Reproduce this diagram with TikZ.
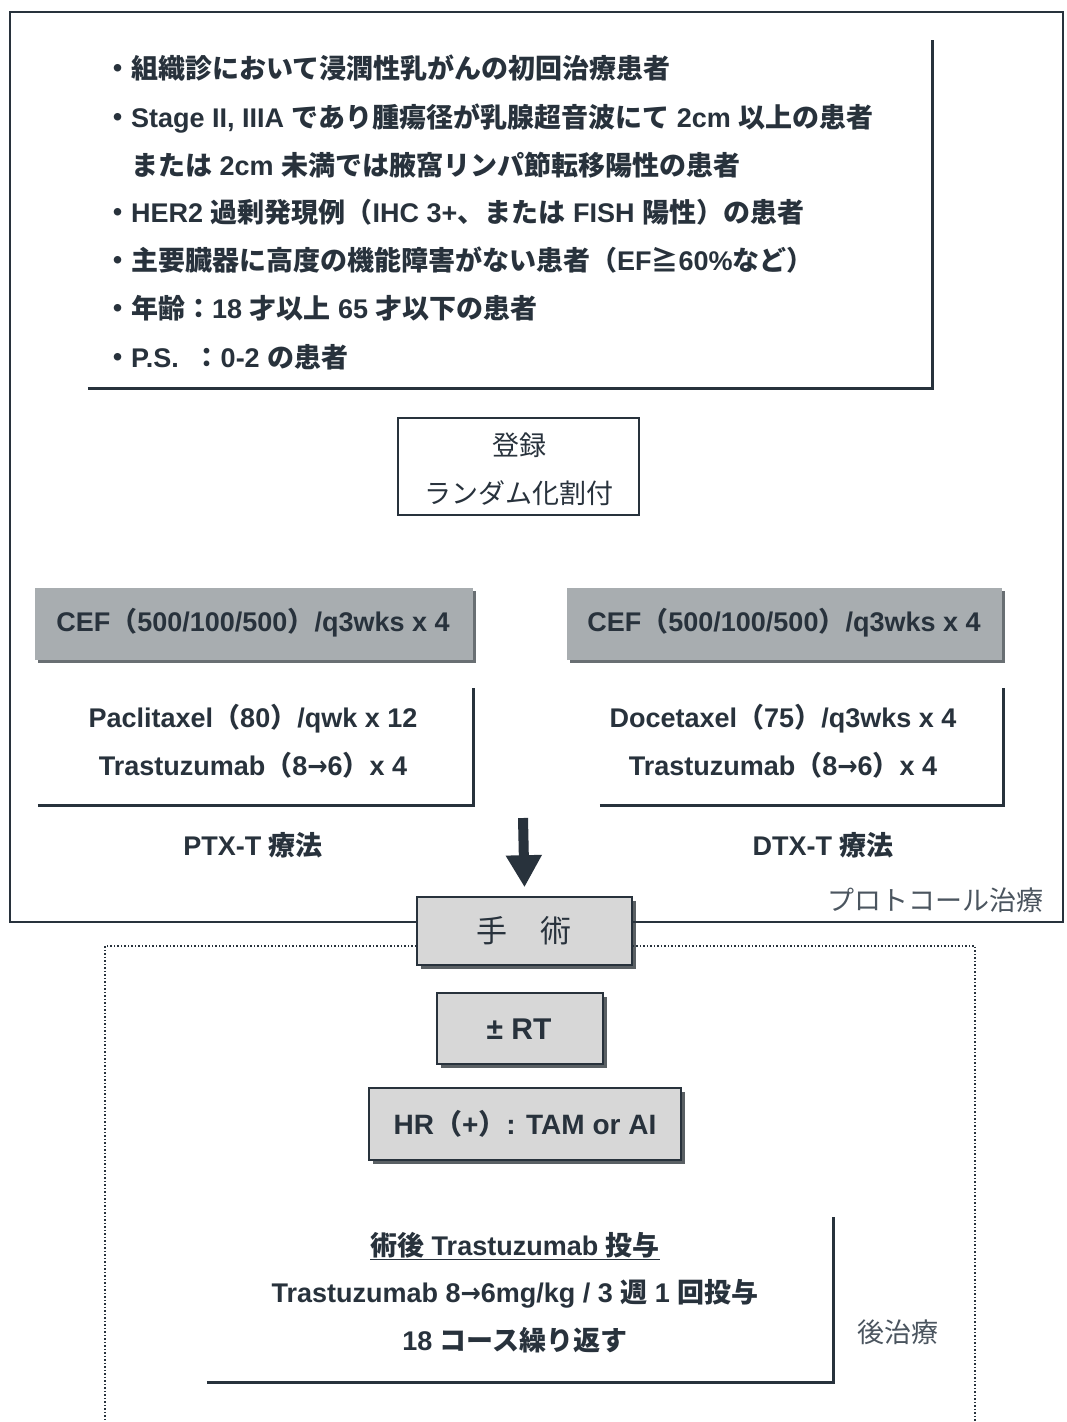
\documentclass[tikz,border=0pt]{standalone}
\usepackage{fontspec}
\setmainfont{Liberation Sans}
\newfontfamily\jp{Noto Sans CJK JP}
\newfontfamily\dv{DejaVu Sans}
\usetikzlibrary{arrows.meta,shadows}
\definecolor{ink}{RGB}{40,50,60}
\definecolor{soft}{RGB}{75,85,95}
\definecolor{cefgray}{RGB}{168,173,176}
\definecolor{cefshadow}{RGB}{105,111,115}
\definecolor{lightbox}{RGB}{215,215,215}
\definecolor{boxshadow}{RGB}{90,96,100}
\newcommand{\J}[1]{{\jp #1}}
\newcommand{\ar}{{\dv\bfseries\scalebox{0.9}[1]{→}}}
\begin{document}
\begin{tikzpicture}[x=1pt,y=-1pt,
  txt/.style={text=ink, font=\fontsize{27}{30}\selectfont\bfseries, inner sep=0pt},
  thin/.style={text=soft, font=\fontsize{27}{30}\selectfont\jp, inner sep=0pt},
  frameline/.style={draw=ink, line width=1.6pt},
  lshape/.style={draw=ink, line width=3pt},
  dotframe/.style={draw=ink, line width=1.5pt, dotted},
  cefbox/.style={fill=cefgray, inner sep=0pt,
     drop shadow={shadow xshift=3pt, shadow yshift=-3pt, fill=cefshadow, opacity=1}},
  graybox/.style={fill=lightbox, draw=ink, line width=1.6pt, inner sep=0pt,
     drop shadow={shadow xshift=4pt, shadow yshift=-4pt, fill=boxshadow, opacity=1}},
  regbox/.style={draw=ink, line width=1.4pt, inner sep=0pt},
  region/.style={inner sep=0pt}
]
\useasboundingbox[fill=white] (0,0) rectangle (1066,1422);

% ---------- criteria ----------
\node[region, minimum width=844pt, minimum height=348pt] (crit) at (510,214) {};
\draw[lshape] (crit.south west) -- (crit.south east) -- (crit.north east);
\node[txt, anchor=base west] (c1) at (104,78) {\J{・組織診において浸潤性乳がんの初回治療患者}};
\node[txt, anchor=base west] (c2) at (104,127) {\J{・}Stage II, IIIA \J{であり腫瘍径が乳腺超音波にて} 2cm \J{以上の患者}};
\node[txt, anchor=base west] (c3) at (131,175) {\J{または} 2cm \J{未満では腋窩リンパ節転移陽性の患者}};
\node[txt, anchor=base west] (c4) at (104,222) {\J{・}HER2 \J{過剰発現例（}IHC 3+\J{、または} FISH \J{陽性）の患者}};
\node[txt, anchor=base west] (c5) at (104,270) {\J{・主要臓器に高度の機能障害がない患者（}EF\J{≧}60\%\J{など）}};
\node[txt, anchor=base west] (c6) at (104,318) {\J{・年齢：}18 \J{才以上} 65 \J{才以下の患者}};
\node[txt, anchor=base west] (c7) at (104,367) {\J{・}P.S.\ \ \J{：}0-2 \J{の患者}};

% ---------- registration ----------
\node[regbox, minimum width=241pt, minimum height=97pt] (reg) at (518.5,466.5) {};
\node[thin, text=ink, anchor=base] (reg1) at (519,455) {登録};
\node[thin, text=ink, anchor=base] (reg2) at (519,503) {ランダム化割付};

% ---------- CEF boxes ----------
\node[cefbox, minimum width=438pt, minimum height=72pt] (cefL) at (254,624) {};
\node[txt, anchor=base] (cefLt) at (253,631) {CEF\J{（}500/100/500\J{）}/q3wks x 4};
\node[cefbox, minimum width=435pt, minimum height=72pt] (cefR) at (784.5,624) {};
\node[txt, anchor=base] (cefRt) at (784,631) {CEF\J{（}500/100/500\J{）}/q3wks x 4};

% ---------- treatment regions ----------
\node[region, minimum width=435pt, minimum height=117pt] (ptx) at (255.5,746.5) {};
\draw[lshape] (ptx.south west) -- (ptx.south east) -- (ptx.north east);
\node[txt, anchor=base] (ptx1) at (253,727) {Paclitaxel\J{（}80\J{）}/qwk x 12};
\node[txt, anchor=base] (ptx2) at (253,775) {Trastuzumab\J{（}8\ar6\J{）}x 4};
\node[region, minimum width=403pt, minimum height=117pt] (dtx) at (801.5,746.5) {};
\draw[lshape] (dtx.south west) -- (dtx.south east) -- (dtx.north east);
\node[txt, anchor=base] (dtx1) at (783,727) {Docetaxel\J{（}75\J{）}/q3wks x 4};
\node[txt, anchor=base] (dtx2) at (783,775) {Trastuzumab\J{（}8\ar6\J{）}x 4};

\node[txt, anchor=base] (ptxlab) at (253,855) {PTX-T \J{療法}};
\node[txt, anchor=base] (dtxlab) at (823,855) {DTX-T \J{療法}};
\node[thin, anchor=base] (proto) at (935,910) {プロトコール治療};

% ---------- surgery ----------
\node[graybox, minimum width=215pt, minimum height=68pt] (surg) at (524.5,931) {};
\node[txt, anchor=base, font=\fontsize{31}{34}\selectfont\jp] (surgt) at (524,942) {手\hspace{33pt}術};

\coordinate (arrStart) at (523,818);
\draw[ink, line width=10pt, -{Triangle[width=34pt,length=32pt]}] (arrStart) -- ([yshift=9pt]surg.north);

% outer protocol frame
\draw[frameline] ([yshift=9pt]surg.west) -- (10,922) -- (10,12) -- (1063,12) -- (1063,922) -- ([yshift=9pt]surg.east);
% dotted post-treatment frame
\draw[dotframe] ([yshift=-15pt]surg.west) -- (105,946) -- (105,1422);
\draw[dotframe] ([yshift=-15pt]surg.east) -- (975,946) -- (975,1422);

% ---------- RT and HR ----------
\node[graybox, minimum width=166pt, minimum height=71pt] (rt) at (520,1028.5) {};
\node[txt, anchor=base, font=\fontsize{30}{33}\selectfont\bfseries] (rtt) at (519,1039) {± RT};
\node[graybox, minimum width=312pt, minimum height=72pt] (hr) at (525,1124) {};
\node[txt, anchor=base, font=\fontsize{28}{31}\selectfont\bfseries] (hrt) at (525,1134) {HR\J{（}+\J{）}: TAM or AI};

% ---------- post treatment ----------
\node[region, minimum width=626pt, minimum height=165pt] (post) at (520,1299.5) {};
\draw[lshape] (post.south west) -- (post.south east) -- (post.north east);
\node[txt, anchor=base] (p1) at (515,1255) {\underline{\J{術後} Trastuzumab \J{投与}}};
\node[txt, anchor=base] (p2) at (515,1302) {Trastuzumab 8\ar6mg/kg / 3 \J{週} 1 \J{回投与}};
\node[txt, anchor=base] (p3) at (515,1350) {18 \J{コース繰り返す}};
\node[thin, anchor=base] (postlab) at (898,1342) {後治療};
\end{tikzpicture}
\end{document}
